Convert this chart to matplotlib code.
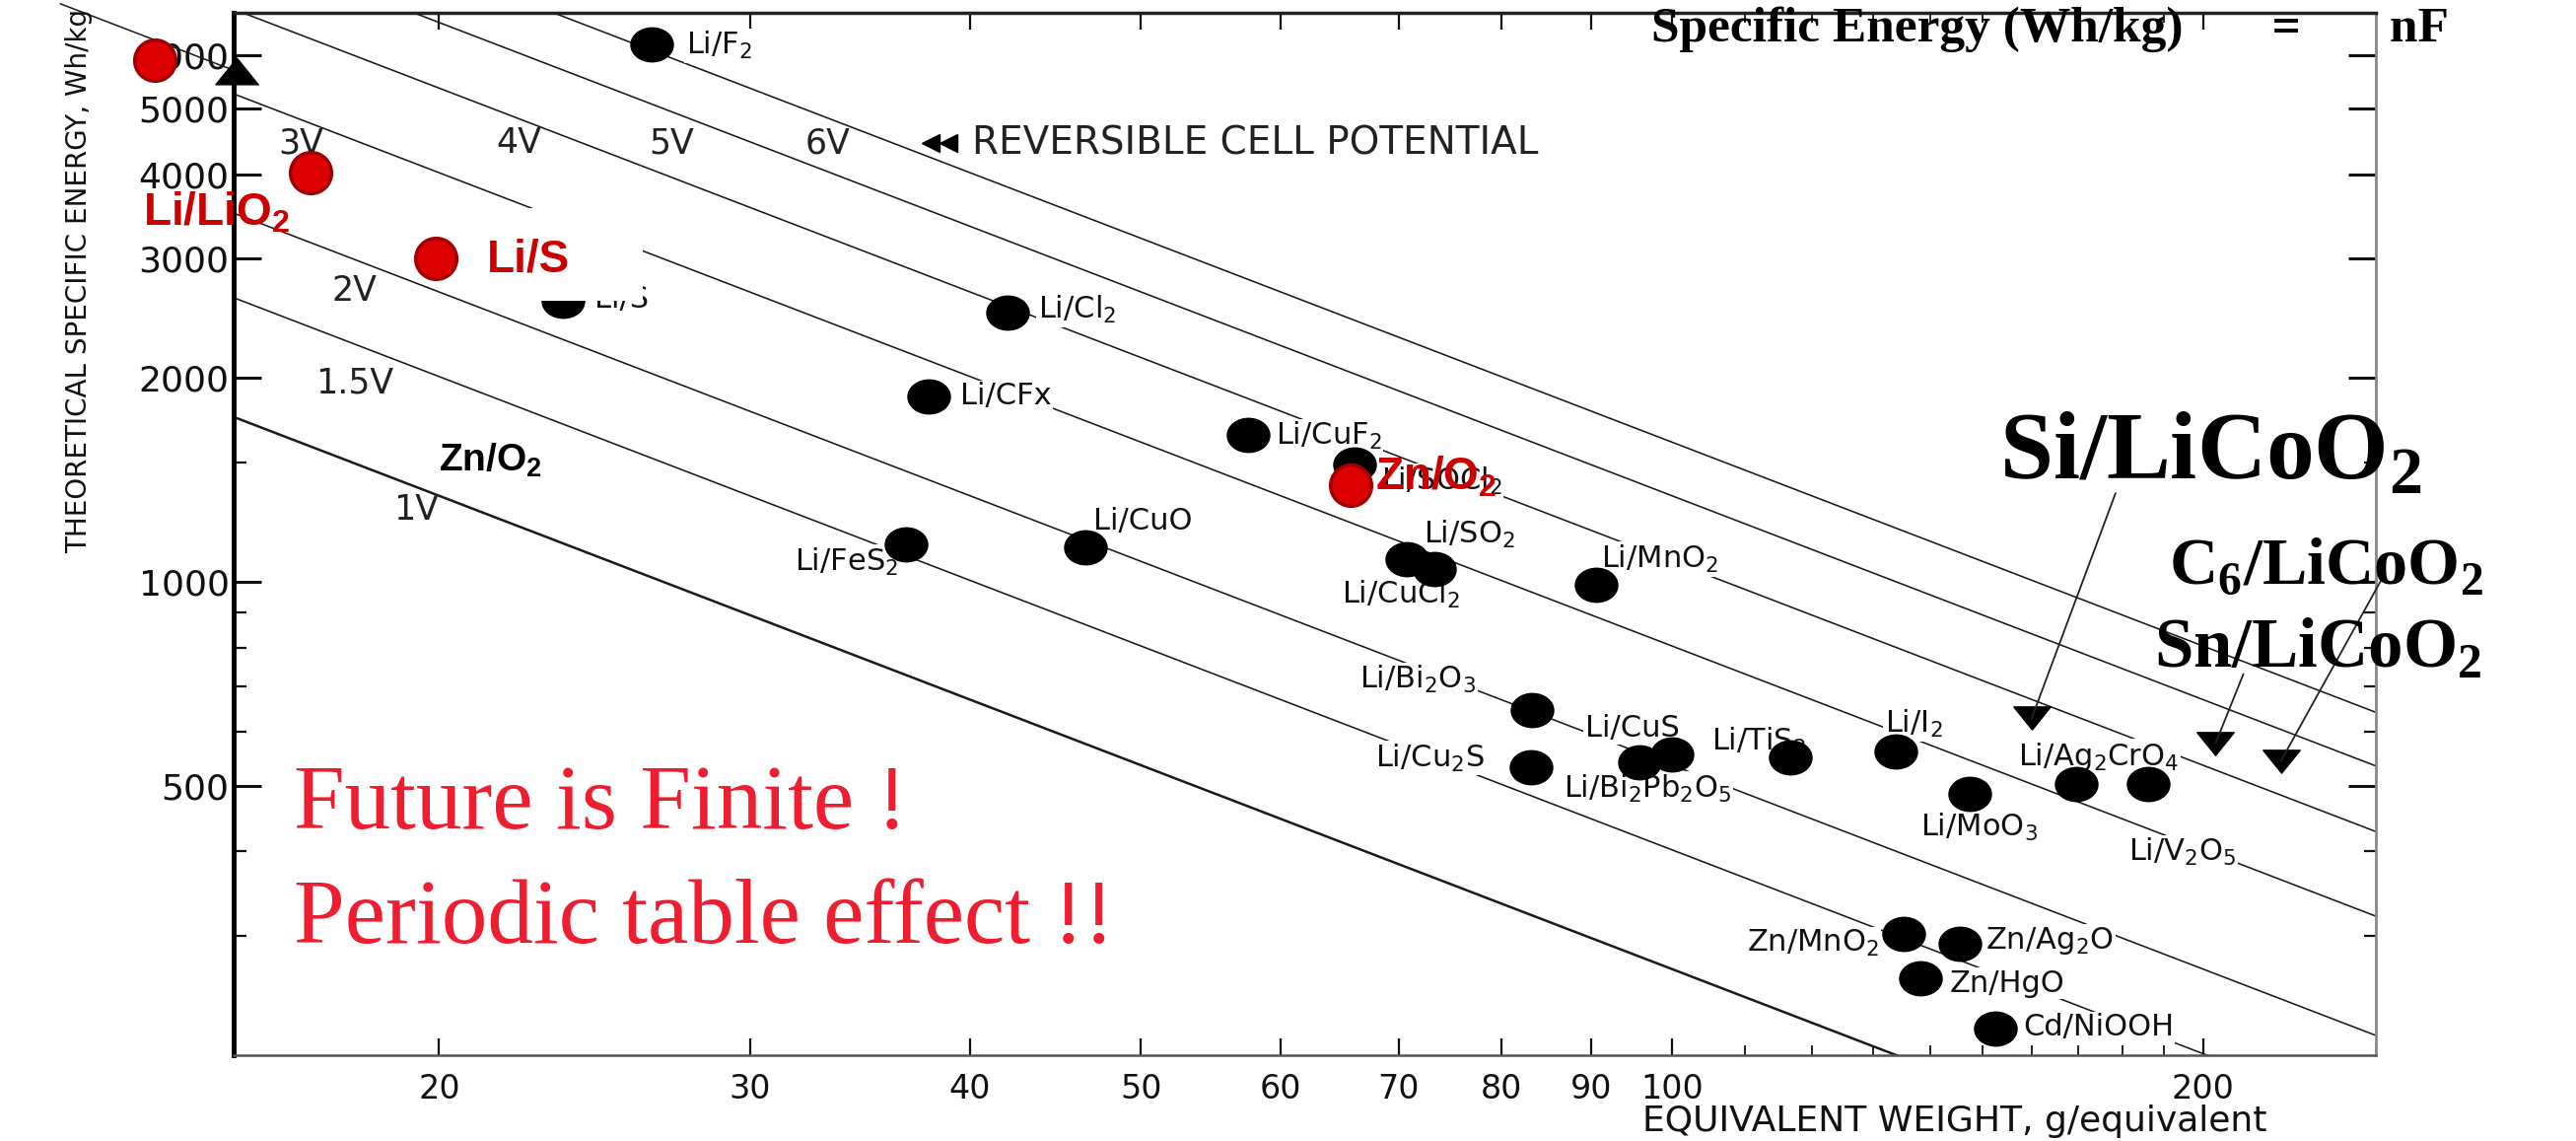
import matplotlib
matplotlib.use("Agg")
import matplotlib.pyplot as plt
import numpy as np
from matplotlib.path import Path
from matplotlib.transforms import Affine2D
from matplotlib.patches import Rectangle
from matplotlib.ticker import FixedLocator, FixedFormatter, NullFormatter

plt.rcParams['mathtext.fontset'] = 'custom'
plt.rcParams['mathtext.rm'] = 'DejaVu Sans'
plt.rcParams['mathtext.bf'] = 'Liberation Serif:bold'
plt.rcParams['mathtext.sf'] = 'Liberation Sans:bold'

# ---------------- data ----------------
K = 26801  # Wh/kg = K * V / (g/equivalent)
voltages = [1, 1.5, 2, 3, 4, 5, 6]
voltage_labels = ['1V', '1.5V', '2V', '3V', '4V', '5V', '6V']

couples = [r'Li/F$_\mathrm{2}$', r'Li/Cl$_\mathrm{2}$', 'Li/CFx', 'Li/S',
           r'Li/CuF$_\mathrm{2}$', r'Li/SOCl$_\mathrm{2}$', 'Li/CuO',
           r'Li/FeS$_\mathrm{2}$', r'Li/SO$_\mathrm{2}$', r'Li/CuCl$_\mathrm{2}$',
           r'Li/MnO$_\mathrm{2}$', r'Li/Bi$_\mathrm{2}$O$_\mathrm{3}$', 'Li/CuS',
           r'Li/Bi$_\mathrm{2}$Pb$_\mathrm{2}$O$_\mathrm{5}$', r'Li/TiS$_\mathrm{2}$',
           r'Li/I$_\mathrm{2}$', r'Li/Cu$_\mathrm{2}$S', r'Li/Ag$_\mathrm{2}$CrO$_\mathrm{4}$',
           r'Li/MoO$_\mathrm{3}$', r'Li/V$_\mathrm{2}$O$_\mathrm{5}$', r'Zn/MnO$_\mathrm{2}$',
           r'Zn/Ag$_\mathrm{2}$O', 'Zn/HgO', 'Cd/NiOOH']
equiv_weight = [26.4, 42.0, 37.9, 23.5, 57.5, 66.1, 46.5, 36.8, 70.7, 73.3,
                90.6, 83.3, 100.0, 95.8, 116.7, 133.9, 83.2, 169.5,
                147.4, 186.2, 135.3, 145.6, 138.2, 152.5]
spec_energy = [6220, 2500, 1880, 2600, 1650, 1490, 1125, 1137, 1081, 1046,
               989, 647, 556, 541, 550, 562, 532, 503,
               486, 503, 302, 292, 260, 219]

red_couples = ['', r'Li/LiO$_\mathsf{2}$', 'Li/S', r'Zn/O$_\mathsf{2}$']
red_weight = [13.8, 16.9, 19.9, 65.7]
red_energy = [5900, 4020, 3008, 1390]

licoo2_labels = [r'Si/LiCoO$_\mathbf{2}$', r'Sn/LiCoO$_\mathbf{2}$', r'C$_\mathbf{6}$/LiCoO$_\mathbf{2}$']
licoo2_weight = [159.9, 203.3, 221.4]
licoo2_energy = [629, 578, 544]

x_ticks = [20, 30, 40, 50, 60, 70, 80, 90, 100, 200]
x_tick_labels = ['20', '30', '40', '50', '60', '70', '80', '90', '100', '200']
x_minor = [110, 120, 130, 140, 150, 160, 170, 180, 190]
y_ticks = [500, 1000, 2000, 3000, 4000, 5000, 6000]
y_tick_labels = ['500', '1000', '2000', '3000', '4000', '5000', '6000']
y_minor = [300, 400, 600, 700, 800, 900, 1500]

# ---------------- layout (label placement) ----------------
label_offsets = [(25, -1), (22, 2), (23, 0), (23, 1), (20, -1), (19, -12),
                 (42, 19), (-6, -13), (46, 18), (19, -19), (46, 19), (-41, 22),
                 (-29, 19), (-55, -19), (-58, 12), (-8, 20), (-34, 7), (16, 20),
                 (7, -24), (25, -50), (-18, -7), (19, 2), (22, -4), (20, 1)]
label_ha = ['left', 'left', 'left', 'left', 'left', 'left',
            'center', 'right', 'center', 'right', 'center', 'right',
            'center', 'left', 'left', 'left', 'right', 'center',
            'center', 'center', 'right', 'left', 'left', 'left']
vlabel_w = [19.4, 17.9, 17.9, 16.7, 22.2, 27.1, 33.2]
vlabel_e = [1279, 1967, 2690, 4446, 4446, 4446, 4446]
red_offsets = [(0, 0), (-122, -29), (38, -1), (18, 6)]

fig = plt.figure(figsize=(26.13, 11.57), dpi=100)
ax = fig.add_axes([0.0906, 0.0752, 0.9222 - 0.0906, 0.9885 - 0.0752])
ax.set_xscale('log')
ax.set_yscale('log')
ax.set_xlim(15.29, 250.5)
ax.set_ylim(200, 6917)

# constant-voltage lines
wl = np.geomspace(10, 400, 300)
for V in voltages:
    ax.plot(wl, K * V / wl, color='#1a1a1a', lw=1.8 if V == 1 else 1.15, zorder=2)
# stray line outside the frame at top left, ending at the triangle
we = np.geomspace(12.2, 15.3, 20)
ax.plot(we, K * 3.25 / we, color='#1a1a1a', lw=1.1, clip_on=False, zorder=2)

for lab, w, e in zip(voltage_labels, vlabel_w, vlabel_e):
    ax.text(w, e, lab, fontsize=25, color='#222222', ha='center', va='center', zorder=3)

# markers
ell = Path.unit_circle().transformed(Affine2D().scale(1.0, 0.8))
ax.plot(equiv_weight, spec_energy, linestyle='none', marker=ell, markersize=31,
        color='black', zorder=4)
for name, w, e, off, ha in zip(couples, equiv_weight, spec_energy, label_offsets, label_ha):
    ax.annotate(name, (w, e), xytext=off, textcoords='offset points', ha=ha, va='center',
                fontsize=22, color='#111111', zorder=3,
                bbox=dict(boxstyle='square,pad=0.05', fc='white', ec='none'))

# white patch partially hiding Li/S
ax.add_patch(Rectangle((20.9, 2600), 26.1 - 20.9, 3560 - 2600, fc='white', ec='none', zorder=4.5))

up = Path([(0, 0.62), (-1, -0.62), (1, -0.62), (0, 0.62)], [1, 2, 2, 79])
down = Path([(0, -0.62), (-1, 0.62), (1, 0.62), (0, -0.62)], [1, 2, 2, 79])
ax.plot([15.36], [5689], linestyle='none', marker=up, markersize=31, color='black',
        clip_on=False, zorder=5)
ax.plot(licoo2_weight, licoo2_energy, linestyle='none', marker=down, markersize=27,
        color='black', zorder=5)

# REVERSIBLE CELL POTENTIAL
ax.plot([38.0, 38.9], [4446, 4446], linestyle='none', marker='<', markersize=13,
        color='black', zorder=5)
ax.text(40.1, 4446, 'REVERSIBLE CELL POTENTIAL', fontsize=28, color='#222222',
        ha='left', va='center', zorder=3)

# LiCoO2 labels with pointer lines
ax.text(153.2, 1538, licoo2_labels[0], family='Liberation Serif', weight='bold',
        fontsize=70, ha='left', va='center', zorder=6)
ax.text(191.2, 1052, licoo2_labels[2], family='Liberation Serif', weight='bold',
        fontsize=49, ha='left', va='center', zorder=6)
ax.text(187.5, 795, licoo2_labels[1], family='Liberation Serif', weight='bold',
        fontsize=51, ha='left', va='center', zorder=6)
arrow_start_w = [178.4, 210.8, 252.6]
arrow_start_e = [1352, 731, 1011]
for sw, se, tw, te in zip(arrow_start_w, arrow_start_e, licoo2_weight, licoo2_energy):
    ax.annotate('', xy=(tw, te), xytext=(sw, se), annotation_clip=False,
                arrowprops=dict(arrowstyle='-', lw=1.3, color='#222222', shrinkA=0, shrinkB=0),
                zorder=5)

# red points
ax.plot(red_weight, red_energy, linestyle='none', marker='o', markersize=30,
        markerfacecolor='#dd0000', markeredgecolor='#a00000', markeredgewidth=2.5,
        clip_on=False, zorder=6)
for name, w, e, off in zip(red_couples, red_weight, red_energy, red_offsets):
    if name:
        ax.annotate(name, (w, e), xytext=off, textcoords='offset points', ha='left',
                    va='center', fontsize=33, weight='bold', family='Liberation Sans',
                    color='#cc0000', zorder=7, annotation_clip=False)
ax.text(20.0, 1510, r'Zn/O$_\mathsf{2}$', fontsize=28, weight='bold', family='Liberation Sans',
        color='black', ha='left', va='center', zorder=6)

# slogans
ax.text(16.55, 467, 'Future is Finite !', family='Liberation Serif', fontsize=67,
        color='#ee1d2f', ha='left', va='center', zorder=6)
ax.text(16.55, 316, 'Periodic table effect !!', family='Liberation Serif', fontsize=67,
        color='#ee1d2f', ha='left', va='center', zorder=6)

# axes styling
ax.xaxis.set_major_locator(FixedLocator(x_ticks))
ax.xaxis.set_major_formatter(FixedFormatter(x_tick_labels))
ax.xaxis.set_minor_locator(FixedLocator(x_minor))
ax.xaxis.set_minor_formatter(NullFormatter())
ax.yaxis.set_major_locator(FixedLocator(y_ticks))
ax.yaxis.set_major_formatter(FixedFormatter(y_tick_labels))
ax.yaxis.set_minor_locator(FixedLocator(y_minor))
ax.yaxis.set_minor_formatter(NullFormatter())
ax.tick_params(which='both', direction='in', top=True, right=True, colors='#111111')
ax.tick_params(axis='y', which='major', length=20, width=2.2, pad=3, labelsize=26)
ax.tick_params(axis='y', which='minor', length=9, width=1.6)
ax.tick_params(axis='x', which='major', length=12, width=1.6, pad=13, labelsize=24)
ax.tick_params(axis='x', which='minor', length=7, width=1.3)
for s, lw, c in [('left', 3.5, 'black'), ('bottom', 1.8, '#555555'),
                 ('top', 2.5, '#222222'), ('right', 2.0, '#888888')]:
    ax.spines[s].set_linewidth(lw)
    ax.spines[s].set_color(c)

fig.text(80 / 2613, 1 - 285 / 1157, 'THEORETICAL SPECIFIC ENERGY, Wh/kg', rotation=90,
         fontsize=20, ha='center', va='center', color='#111111')
fig.text(1983 / 2613, 1 - 1137 / 1157, 'EQUIVALENT WEIGHT, g/equivalent',
         fontsize=26, ha='center', va='center', color='#111111')
fig.text(1675 / 2613, 1 - 30 / 1157, 'Specific Energy (Wh/kg)       =       nF',
         family='Liberation Serif', weight='bold', fontsize=37, ha='left', va='center')

fig.savefig('out.png', dpi=100, facecolor='white')
